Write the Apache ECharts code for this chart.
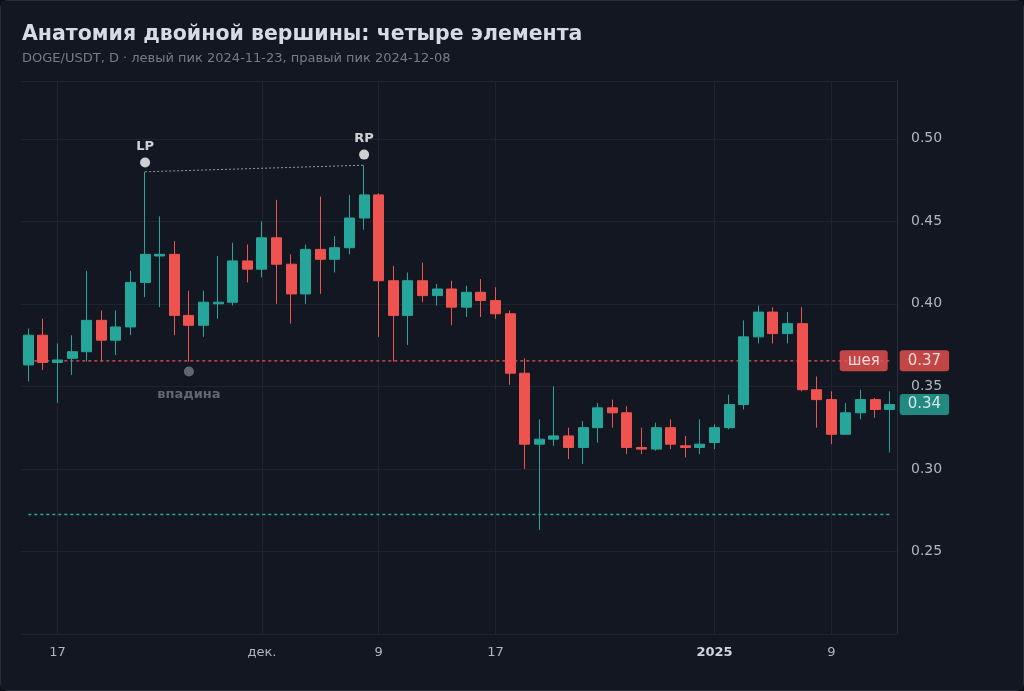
<!DOCTYPE html>
<html><head><meta charset="utf-8">
<script src="https://cdn.jsdelivr.net/npm/echarts@6/dist/echarts.min.js"></script>
<style>html,body{margin:0;background:#0b0e14;}#c{width:1022px;height:689px;border:1px solid #2a2e39;border-radius:8px;background:#131722;}</style>
</head><body><div id="c"></div>
<script>
const dates=[];
(function(){let d=new Date(Date.UTC(2024,10,15));for(let i=0;i<60;i++){dates.push(d.toISOString().slice(0,10));d=new Date(d.getTime()+86400000);}})();
const opens =[0.363,0.381,0.3645,0.367,0.371,0.390,0.378,0.386,0.413,0.429,0.430,0.393,0.387,0.400,0.401,0.426,0.421,0.440,0.424,0.406,0.433,0.427,0.434,0.452,0.466,0.414,0.393,0.414,0.405,0.409,0.398,0.407,0.402,0.394,0.358,0.315,0.318,0.320,0.313,0.325,0.337,0.334,0.313,0.312,0.325,0.314,0.313,0.316,0.325,0.339,0.380,0.395,0.382,0.388,0.348,0.342,0.321,0.334,0.342,0.336];
const closes=[0.381,0.3645,0.366,0.371,0.390,0.378,0.386,0.413,0.430,0.430,0.393,0.387,0.401,0.401,0.426,0.421,0.440,0.424,0.406,0.433,0.427,0.434,0.452,0.466,0.414,0.393,0.414,0.405,0.409,0.398,0.407,0.402,0.394,0.358,0.315,0.318,0.320,0.313,0.325,0.337,0.334,0.313,0.312,0.325,0.315,0.313,0.315,0.325,0.339,0.380,0.395,0.382,0.388,0.348,0.342,0.321,0.334,0.342,0.336,0.339];
const highs =[0.385,0.391,0.376,0.381,0.420,0.396,0.396,0.420,0.480,0.453,0.438,0.408,0.408,0.429,0.437,0.436,0.450,0.463,0.430,0.436,0.465,0.441,0.466,0.484,0.467,0.423,0.419,0.425,0.412,0.414,0.411,0.415,0.410,0.396,0.367,0.330,0.350,0.325,0.329,0.340,0.342,0.338,0.325,0.328,0.330,0.320,0.330,0.327,0.345,0.390,0.399,0.398,0.395,0.398,0.356,0.347,0.340,0.348,0.343,0.347];
const lows  =[0.353,0.360,0.340,0.357,0.365,0.365,0.369,0.381,0.404,0.398,0.381,0.365,0.380,0.391,0.399,0.413,0.416,0.400,0.388,0.400,0.406,0.419,0.430,0.445,0.380,0.365,0.375,0.401,0.399,0.387,0.392,0.392,0.391,0.351,0.300,0.263,0.314,0.306,0.303,0.316,0.325,0.309,0.309,0.311,0.312,0.307,0.309,0.312,0.324,0.336,0.376,0.376,0.376,0.347,0.325,0.315,0.321,0.330,0.331,0.310];
const neckline=0.3655, supportLine=0.2724, lastPrice=0.339;
const lpIdx=8, rpIdx=23, troughIdx=11;
const lpDot=0.4856, rpDot=0.4904, troughDot=0.359;
const yTicks=[0.25,0.30,0.35,0.40,0.45,0.50];
const xLabelMap={"2024-11-17":"17","2024-12-01":"дек.","2024-12-09":"9","2024-12-17":"17","2025-01-01":"2025","2025-01-09":"9"};

const ohlc=dates.map((d,i)=>[opens[i],closes[i],lows[i],highs[i]]);
const chart=echarts.init(document.getElementById('c'));
const F='"DejaVu Sans", sans-serif';
const last=dates[dates.length-1];
const tag=(txt,col,pos,off)=>({show:true,position:pos,formatter:txt,color:'#fff',backgroundColor:col,padding:[3,8],borderRadius:3,fontSize:15,fontFamily:F,offset:off});
chart.setOption({
  backgroundColor:'#131722',animation:false,
  title:{text:'Анатомия двойной вершины: четыре элемента',subtext:'DOGE/USDT, D · левый пик 2024-11-23, правый пик 2024-12-08',left:16,top:18,itemGap:7,
    textStyle:{color:'#d8dbe3',fontSize:20.5,fontWeight:'bold',fontFamily:F},subtextStyle:{color:'#787b86',fontSize:13,fontFamily:F}},
  grid:{left:20,right:126,top:80,bottom:56},
  xAxis:{type:'category',data:dates,boundaryGap:true,
    axisLine:{show:false},axisTick:{show:false},
    axisLabel:{interval:(i,v)=>v in xLabelMap,formatter:v=>v==='2025-01-01'?'{b|2025}':xLabelMap[v],color:'#b2b5be',fontSize:13,fontFamily:F,margin:12,
      rich:{b:{fontWeight:'bold',color:'#d1d4dc',fontSize:13,fontFamily:F}}},
    splitLine:{show:false}},
  yAxis:{type:'value',position:'right',min:0.2,max:0.535,interval:0.05,
    axisLine:{show:true,lineStyle:{color:'#2a2e39'}},axisTick:{show:false},
    axisLabel:{color:'#b2b5be',fontSize:14,fontFamily:F,margin:14,formatter:v=>yTicks.some(t=>Math.abs(t-v)<1e-6)?v.toFixed(2):''},
    splitLine:{lineStyle:{color:'#1f2330'}}},
  series:[
    {type:'candlestick',data:ohlc,barWidth:'72%',z:3,
      itemStyle:{color:'#26a69a',color0:'#ef5350',borderColor:'#26a69a',borderColor0:'#ef5350'},
      markLine:{symbol:'none',silent:true,z:1,label:{show:false},lineStyle:{color:'#1f2330',type:'solid',width:1,opacity:1},
        data:Object.keys(xLabelMap).map(d=>({xAxis:d}))}},
    {type:'line',data:dates.map(d=>[d,neckline]),symbol:'none',silent:true,z:2,lineStyle:{color:'#ef5350',type:[3,3],width:1.3}},
    {type:'line',data:dates.map(d=>[d,supportLine]),symbol:'none',silent:true,z:2,lineStyle:{color:'#26a69a',type:[3,3],width:1.3}},
    {type:'line',data:[[dates[lpIdx],highs[lpIdx]],[dates[rpIdx],highs[rpIdx]]],symbol:'none',silent:true,lineStyle:{color:'#9598a1',type:[2,2],width:1}},
    {type:'scatter',symbolSize:10,z:5,silent:true,data:[
      {value:[dates[lpIdx],lpDot],itemStyle:{color:'#fff'},label:{show:true,position:'top',formatter:'LP',color:'#fff',fontWeight:'bold',fontSize:13,fontFamily:F,distance:4}},
      {value:[dates[rpIdx],rpDot],itemStyle:{color:'#fff'},label:{show:true,position:'top',formatter:'RP',color:'#fff',fontWeight:'bold',fontSize:13,fontFamily:F,distance:4}},
      {value:[dates[troughIdx],troughDot],itemStyle:{color:'#787b86'},label:{show:true,position:'bottom',formatter:'впадина',color:'#787b86',fontWeight:'bold',fontSize:13,fontFamily:F,distance:12}}
    ]},
    {type:'scatter',symbolSize:0,z:6,silent:true,data:[
      {value:[last,neckline],label:tag('шея','#ef5350','left',[3,0])},
      {value:[last,neckline],label:tag('0.37','#ef5350','right',[5,0])},
      {value:[last,lastPrice],label:tag('0.34','#26a69a','right',[5,0])}
    ]}
  ]
});
</script></body></html>
